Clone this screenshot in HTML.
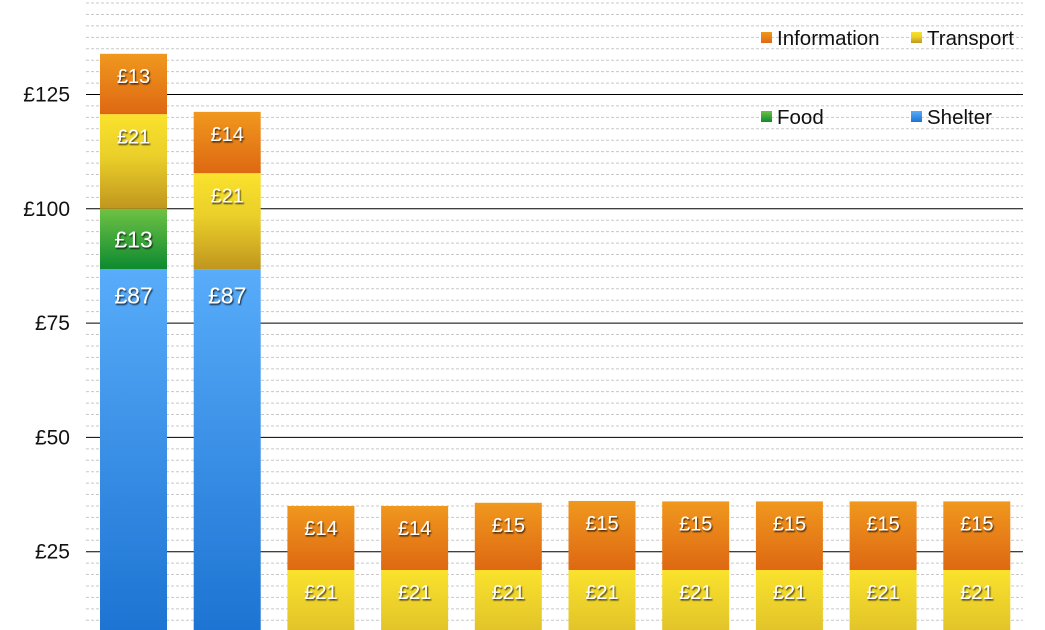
<!DOCTYPE html>
<html><head><meta charset="utf-8"><style>
html,body{margin:0;padding:0;background:#fff;width:1045px;height:630px;overflow:hidden;}
svg{display:block;font-family:"Liberation Sans",Arial,sans-serif;overflow:hidden;}
</style></head><body>
<svg id="chart" width="1045" height="630" viewBox="0 0 1045 630">
<defs>
<linearGradient id="g-shelter" x1="0" y1="0" x2="0" y2="1"><stop offset="0" stop-color="#58acfa"/><stop offset="1" stop-color="#1d74d2"/></linearGradient>
<linearGradient id="g-food" x1="0" y1="0" x2="0" y2="1"><stop offset="0" stop-color="#6fc244"/><stop offset="1" stop-color="#0d8a30"/></linearGradient>
<linearGradient id="g-transport" x1="0" y1="0" x2="0" y2="1"><stop offset="0" stop-color="#fae22c"/><stop offset="0.45" stop-color="#eacf2a"/><stop offset="1" stop-color="#c0961e"/></linearGradient>
<linearGradient id="g-transport-low" x1="0" y1="0" x2="0" y2="1"><stop offset="0" stop-color="#fae22c"/><stop offset="1" stop-color="#e2c42a"/></linearGradient>
<linearGradient id="g-information" x1="0" y1="0" x2="0" y2="1"><stop offset="0" stop-color="#f0981e"/><stop offset="1" stop-color="#de6812"/></linearGradient>
<filter id="ts" x="-20%" y="-20%" width="140%" height="140%"><feDropShadow dx="1" dy="1.5" stdDeviation="0.8" flood-color="#000" flood-opacity="0.75"/></filter>
</defs>
<g id="grid"></g>
<g id="bars"></g>
<g id="legend"></g>
</svg>
<script>
const categories = ["A","B","C","D","E","F","G","H","I","J"];
const shelter = [86.8,86.8,0,0,0,0,0,0,0,0];
const food = [13.2,0,0,0,0,0,0,0,0,0];
const transport = [20.7,21,21,21,21,21,21,21,21,21];
const information = [13.2,13.4,14.0,14.0,14.7,15.1,15.0,15.0,15.0,15.0];
const shelterLabels = ["£87","£87","","","","","","","",""];
const foodLabels = ["£13","","","","","","","","",""];
const transportLabels = ["£21","£21","£21","£21","£21","£21","£21","£21","£21","£21"];
const informationLabels = ["£13","£14","£14","£14","£15","£15","£15","£15","£15","£15"];
const yTicks = [25,50,75,100,125];
const yTickLabels = ["£25","£50","£75","£100","£125"];

const NS="http://www.w3.org/2000/svg";
const y = v => 666 - v*4.572;
const xC = i => 133.5 + i*93.7;
const BW = 67;
function mk(tag, attrs, parent){const e=document.createElementNS(NS,tag);for(const k in attrs)e.setAttribute(k,attrs[k]);parent.appendChild(e);return e;}
const grid=document.getElementById('grid'), bars=document.getElementById('bars'), legend=document.getElementById('legend');

for(let v=10; v<=145; v+=2.5){
  if(Math.abs(v/25-Math.round(v/25))<1e-6) continue;
  const l=mk('line',{x1:86,x2:1023,y1:y(v),y2:y(v),stroke:'#c8c8c8','stroke-dasharray':'3,2','stroke-width':1},grid);
  
  
}
yTicks.forEach((v,i)=>{
  const l=mk('line',{x1:86,x2:1023,y1:y(v),y2:y(v),stroke:'#000','stroke-width':1},grid);
  
  
  const t=mk('text',{x:70,y:y(v)+7,'text-anchor':'end','font-size':21,fill:'#111'},grid);
  t.textContent=yTickLabels[i];
  
  
});

const series=[["shelter",shelter,shelterLabels,23],["food",food,foodLabels,23],["transport",transport,transportLabels,20],["information",information,informationLabels,20]];
categories.forEach((c,i)=>{
  let base=0;
  series.forEach(([name,vals,labs,fs])=>{
    const v=vals[i];
    if(v<=0) return;
    const top=y(base+v), bot=Math.min(y(base),630);
    let fill='url(#g-'+name+')';
    if(name==="transport" && y(base)>630) fill='url(#g-transport-low)';
    const r=mk('rect',{x:xC(i)-BW/2,y:top,width:BW,height:bot-top,fill:fill},bars);
    
    
    if(labs[i]){
      let ly = top+22;
      if(name==="food") ly=(top+y(base))/2;
      if(name==="shelter") ly=top+26;
      const t=mk('text',{x:xC(i),y:ly+fs*0.36,'text-anchor':'middle','font-size':fs,fill:'#fff',filter:'url(#ts)'},bars);
      t.textContent=labs[i];
      
      
    }
    base+=v;
  });
});

const leg=[["information","Information",761,32],["transport","Transport",911,32],["food","Food",761,111],["shelter","Shelter",911,111]];
leg.forEach(([k,txt,x0,y0])=>{
  const r=mk('rect',{x:x0,y:y0,width:11,height:11,fill:'url(#g-'+k+')'},legend);
  
  
  const t=mk('text',{x:x0+16,y:y0+13,'font-size':20.5,fill:'#111'},legend);
  t.textContent=txt;
  
  
});
</script>
</body></html>
